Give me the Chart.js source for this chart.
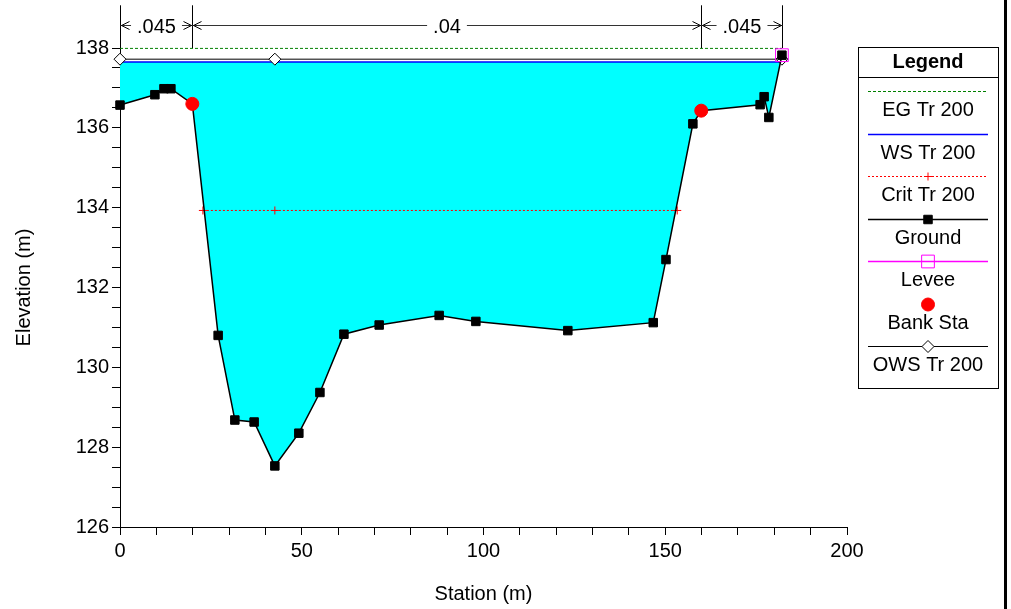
<!DOCTYPE html>
<html>
<head>
<meta charset="utf-8">
<script src="https://cdn.jsdelivr.net/npm/chart.js@4.4.1/dist/chart.umd.min.js"></script>
<style>
	html, body { margin: 0; padding: 0; background: #fff; }
	#wrap { position: relative; width: 1011px; height: 609px; }
</style>
</head>
<body>
<div id="wrap"><canvas id="xs"></canvas></div>
<script>
// cross section data (station m / elevation m)
const groundSta = [0, 9.6, 12.1, 14.0, 19.9, 27.0, 31.6, 36.9, 42.6, 49.2, 55.0, 61.6, 71.3, 87.8, 97.9, 123.2, 146.7, 150.2, 157.6, 159.9, 176.1, 177.2, 178.5, 182.1];
const groundElev = [136.57, 136.83, 136.98, 136.98, 136.6, 130.8, 128.68, 128.63, 127.53, 128.35, 129.37, 130.83, 131.06, 131.3, 131.15, 130.92, 131.12, 132.7, 136.1, 136.43, 136.58, 136.78, 136.26, 137.82];
const bankSta = [19.9, 159.9];
const bankElev = [136.6, 136.43];
const wsSta = [0, 181.7];
const wsElev = [137.65, 137.65];
const egSta = [0, 182.1];
const egElev = [137.99, 137.99];
const critSta = [22.8, 42.6, 153.3];
const critElev = [133.93, 133.93, 133.93];
const owsSta = [0, 42.6, 182.1];
const owsElev = [137.72, 137.72, 137.72];
const leveeSta = [182.1];
const leveeElev = [137.82];

// manning's n regions
const nBreaks = [0, 19.9, 159.9, 182.1];
const nValues = ['.045', '.04', '.045'];
const nLabelElev = 138.58;
const nTopElev = 139.07;

const xTickLabels = [0, 50, 100, 150, 200];
const yTickLabels = [126, 128, 130, 132, 134, 136, 138];

const FONT = 'Arial, "Liberation Sans", sans-serif';

const pts = (xs, ys) => xs.map((x, i) => ({x: x, y: ys[i]}));

const nPlugin = {
	id: 'manningN',
	afterDraw(chart) {
		const ctx = chart.ctx;
		const xs = chart.scales.x, ys = chart.scales.y;
		const yTop = ys.getPixelForValue(nTopElev);
		const yBase = ys.getPixelForValue(138);
		const yDim = Math.round(ys.getPixelForValue(nLabelElev)) + 0.5;
		ctx.save();
		ctx.strokeStyle = '#000';
		ctx.fillStyle = '#000';
		ctx.lineWidth = 1;
		nBreaks.forEach(b => {
			const x = Math.round(xs.getPixelForValue(b)) + 0.5;
			ctx.beginPath();
			ctx.moveTo(x, yTop);
			ctx.lineTo(x, yBase);
			ctx.stroke();
		});
		ctx.font = '20px ' + FONT;
		ctx.textAlign = 'center';
		ctx.textBaseline = 'middle';
		nValues.forEach((txt, i) => {
			const x1 = Math.round(xs.getPixelForValue(nBreaks[i])) + 0.5;
			const x2 = Math.round(xs.getPixelForValue(nBreaks[i + 1])) + 0.5;
			const mid = (x1 + x2) / 2;
			const w = ctx.measureText(txt).width;
			ctx.strokeStyle = '#333';
			ctx.beginPath();
			ctx.moveTo(x1, yDim); ctx.lineTo(mid - w / 2 - 6, yDim);
			ctx.moveTo(mid + w / 2 + 6, yDim); ctx.lineTo(x2, yDim);
			ctx.stroke();
			ctx.strokeStyle = '#000';
			ctx.beginPath();
			ctx.moveTo(x1 + 9, yDim - 4); ctx.lineTo(x1 + 1, yDim); ctx.lineTo(x1 + 9, yDim + 4);
			ctx.moveTo(x2 - 9, yDim - 4); ctx.lineTo(x2 - 1, yDim); ctx.lineTo(x2 - 9, yDim + 4);
			ctx.stroke();
			ctx.fillText(txt, mid, yDim + 2);
		});
		ctx.restore();
	}
};

const legendPlugin = {
	id: 'legendBox',
	afterDraw(chart) {
		const ctx = chart.ctx;
		const left = Math.round(chart.chartArea.right) + 11;
		const right = left + 140;
		const top = 47, bottom = 388;
		const cx = (left + right) / 2;
		ctx.save();
		ctx.strokeStyle = '#000';
		ctx.lineWidth = 1;
		ctx.strokeRect(left + 0.5, top + 0.5, right - left, bottom - top);
		ctx.beginPath();
		ctx.moveTo(left, top + 30.5); ctx.lineTo(right, top + 30.5);
		ctx.stroke();
		ctx.fillStyle = '#000';
		ctx.textAlign = 'center';
		ctx.textBaseline = 'middle';
		ctx.font = 'bold 20px ' + FONT;
		ctx.fillText('Legend', cx, top + 15);
		ctx.font = '20px ' + FONT;
		chart.data.datasets.forEach((ds, i) => {
			const y = Math.round(91 + i * 42.5) + 0.5;
			if (ds.legendLine) {
				ctx.save();
				ctx.strokeStyle = ds.borderColor;
				ctx.lineWidth = ds.borderWidth;
				ctx.setLineDash(ds.borderDash || []);
				ctx.beginPath();
				ctx.moveTo(left + 10, y); ctx.lineTo(right - 10, y);
				ctx.stroke();
				ctx.restore();
			}
			if (ds.pointRadius > 0) {
				ctx.save();
				ctx.fillStyle = ds.pointBackgroundColor || ds.borderColor;
				ctx.strokeStyle = ds.pointBorderColor || ds.borderColor;
				ctx.lineWidth = ds.pointBorderWidth || 1;
				Chart.helpers.drawPoint(ctx, {pointStyle: ds.pointStyle, radius: ds.pointRadius, rotation: 0, borderWidth: ds.pointBorderWidth || 1}, cx, y);
				ctx.restore();
			}
			ctx.fillStyle = '#000';
			ctx.fillText(ds.label, cx, y + 19);
		});
		// window frame at the right edge
		ctx.fillRect(1004, 0, 3, chart.height);
		ctx.restore();
	}
};

const datasets = [
	{
		label: 'EG Tr 200', data: pts(egSta, egElev),
		borderColor: '#008000', borderWidth: 1, borderDash: [3, 2],
		pointRadius: 0, fill: false, legendLine: true, order: 2
	},
	{
		label: 'WS Tr 200', data: pts(wsSta, wsElev),
		borderColor: '#0000ff', borderWidth: 1.5,
		pointRadius: 0, legendLine: true, order: 6,
		fill: {target: 3, above: '#00ffff', below: 'rgba(0,0,0,0)'}
	},
	{
		label: 'Crit Tr 200', data: pts(critSta, critElev),
		borderColor: '#ff0000', borderWidth: 1, borderDash: [2, 2],
		pointStyle: 'cross', pointRadius: 4, pointBorderColor: '#ff0000', pointBorderWidth: 1,
		fill: false, legendLine: true, order: 3
	},
	{
		label: 'Ground', data: pts(groundSta, groundElev),
		borderColor: '#000', borderWidth: 1.5,
		pointStyle: 'rect', pointRadius: 6, pointBackgroundColor: '#000', pointBorderColor: '#000', pointBorderWidth: 1,
		fill: false, legendLine: true, order: 1
	},
	{
		label: 'Levee', data: pts(leveeSta, leveeElev),
		showLine: false, borderColor: '#ff00ff', borderWidth: 1.5,
		pointStyle: 'rect', pointRadius: 9, pointBackgroundColor: 'rgba(0,0,0,0)', pointBorderColor: '#ff00ff', pointBorderWidth: 1,
		fill: false, legendLine: true, order: 0
	},
	{
		label: 'Bank Sta', data: pts(bankSta, bankElev),
		showLine: false, borderColor: '#ff0000',
		pointStyle: 'circle', pointRadius: 6.5, pointBackgroundColor: '#ff0000', pointBorderColor: '#ff0000', pointBorderWidth: 1,
		fill: false, legendLine: false, order: 0
	},
	{
		label: 'OWS Tr 200', data: pts(owsSta, owsElev),
		borderColor: '#000', borderWidth: 1,
		pointStyle: 'rectRot', pointRadius: 6, pointBackgroundColor: '#fff', pointBorderColor: '#000', pointBorderWidth: 1,
		fill: false, legendLine: true, order: 4
	}
];
datasets.forEach(ds => { ds.clip = false; ds.tension = 0; });

const config = {
	type: 'line',
	data: {datasets: datasets},
	options: {
		responsive: true,
		maintainAspectRatio: false,
		animation: false,
		devicePixelRatio: 1,
		events: [],
		layout: {padding: {top: 48, right: 164, left: 0, bottom: 0}},
		plugins: {
			legend: {display: false},
			tooltip: {enabled: false},
			filler: {drawTime: 'beforeDatasetsDraw'}
		},
		scales: {
			x: {
				type: 'linear', min: 0, max: 200,
				afterFit: scale => { scale.height = 82; },
				border: {color: '#000', width: 1},
				grid: {drawOnChartArea: false, drawTicks: true, tickLength: 8, tickColor: '#000'},
				ticks: {
					stepSize: 10, autoSkip: false, maxRotation: 0, padding: 4,
					color: '#000', font: {family: FONT, size: 20},
					callback: v => xTickLabels.includes(v) ? String(v) : ''
				},
				title: {display: true, text: 'Station (m)', color: '#000', font: {family: FONT, size: 20}, padding: {top: 0, bottom: 3}}
			},
			y: {
				type: 'linear', min: 126, max: 138,
				afterFit: scale => { scale.width = 120; },
				border: {color: '#000', width: 1},
				grid: {drawOnChartArea: false, drawTicks: true, tickLength: 8, tickColor: '#000'},
				ticks: {
					stepSize: 0.5, autoSkip: false, includeBounds: false, padding: 3,
					color: '#000', font: {family: FONT, size: 20},
					callback: v => yTickLabels.includes(v) ? String(v) : ''
				},
				title: {display: true, text: 'Elevation (m)', color: '#000', font: {family: FONT, size: 20}, padding: {top: 12, bottom: 0}}
			}
		}
	},
	plugins: [nPlugin, legendPlugin]
};

new Chart(document.getElementById('xs').getContext('2d'), config);
</script>
</body>
</html>
